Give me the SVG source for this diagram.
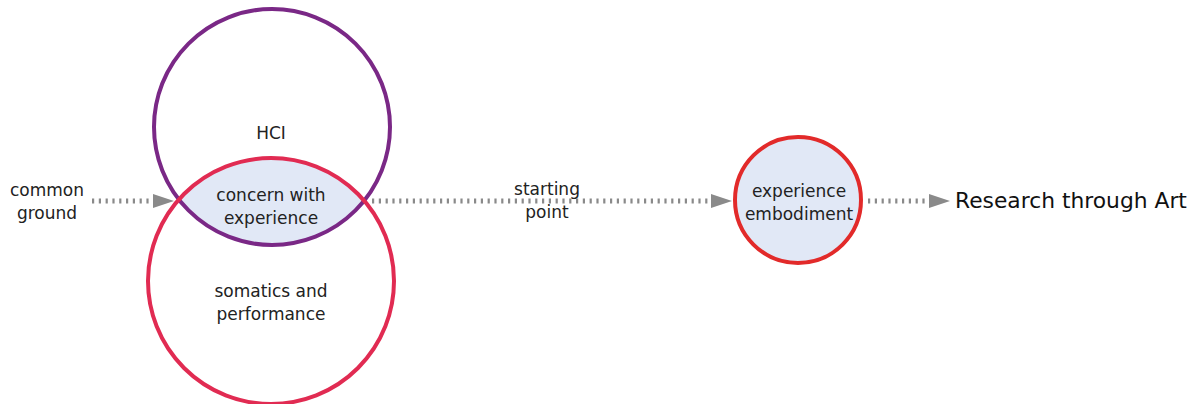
<svg xmlns="http://www.w3.org/2000/svg" width="1194" height="404" viewBox="0 0 1194 404">
  <style>
    .lbl { font-family: "DejaVu Sans", Verdana, sans-serif; font-size: 17px; fill: #222; text-anchor: middle; }
    .big { font-family: "DejaVu Sans", Verdana, sans-serif; font-size: 21.8px; fill: #111; }
    .link { stroke: #8a8a8a; stroke-width: 5; stroke-dasharray: 2.2 4.6; fill: none; }
    .head { fill: #8a8a8a; }
  </style>
  <defs>
    <clipPath id="hciClip">
      <circle cx="272" cy="127" r="118"/>
    </clipPath>
  </defs>
  <rect width="1194" height="404" fill="#ffffff"/>

  <!-- overlap of the two fields -->
  <g id="overlap">
    <circle cx="271" cy="281" r="123" fill="#e1e8f6" clip-path="url(#hciClip)"/>
  </g>

  <g id="hci">
    <circle cx="272" cy="127" r="118" fill="none" stroke="#7a2886" stroke-width="4"/>
    <text class="lbl" x="271" y="139">HCI</text>
  </g>

  <g id="somatics">
    <circle cx="271" cy="281" r="123" fill="none" stroke="#e12b52" stroke-width="4"/>
    <text class="lbl" x="271" y="297">somatics and</text>
    <text class="lbl" x="271" y="320">performance</text>
  </g>

  <g id="concern">
    <text class="lbl" x="271" y="201">concern with</text>
    <text class="lbl" x="271" y="224">experience</text>
  </g>

  <g id="embodiment">
    <circle cx="798" cy="200" r="63" fill="#e1e8f6" stroke="#e22a2a" stroke-width="4"/>
    <text class="lbl" x="799" y="197">experience</text>
    <text class="lbl" x="799" y="220">embodiment</text>
  </g>

  <g id="connectors">
    <line class="link" x1="92" y1="201" x2="152" y2="201"/>
    <polygon class="head" points="153,194 174,201 153,208"/>
    <line class="link" x1="372" y1="201" x2="710" y2="201"/>
    <polygon class="head" points="711,194 732,201 711,208"/>
    <line class="link" x1="868" y1="201" x2="928" y2="201"/>
    <polygon class="head" points="929,194 950,201 929,208"/>
  </g>

  <g id="labels">
    <text class="lbl" x="47" y="196">common</text>
    <text class="lbl" x="47" y="219">ground</text>
    <text class="lbl" x="547" y="195">starting</text>
    <text class="lbl" x="547" y="218">point</text>
    <text class="big" x="955" y="208">Research through Art</text>
  </g>
</svg>
